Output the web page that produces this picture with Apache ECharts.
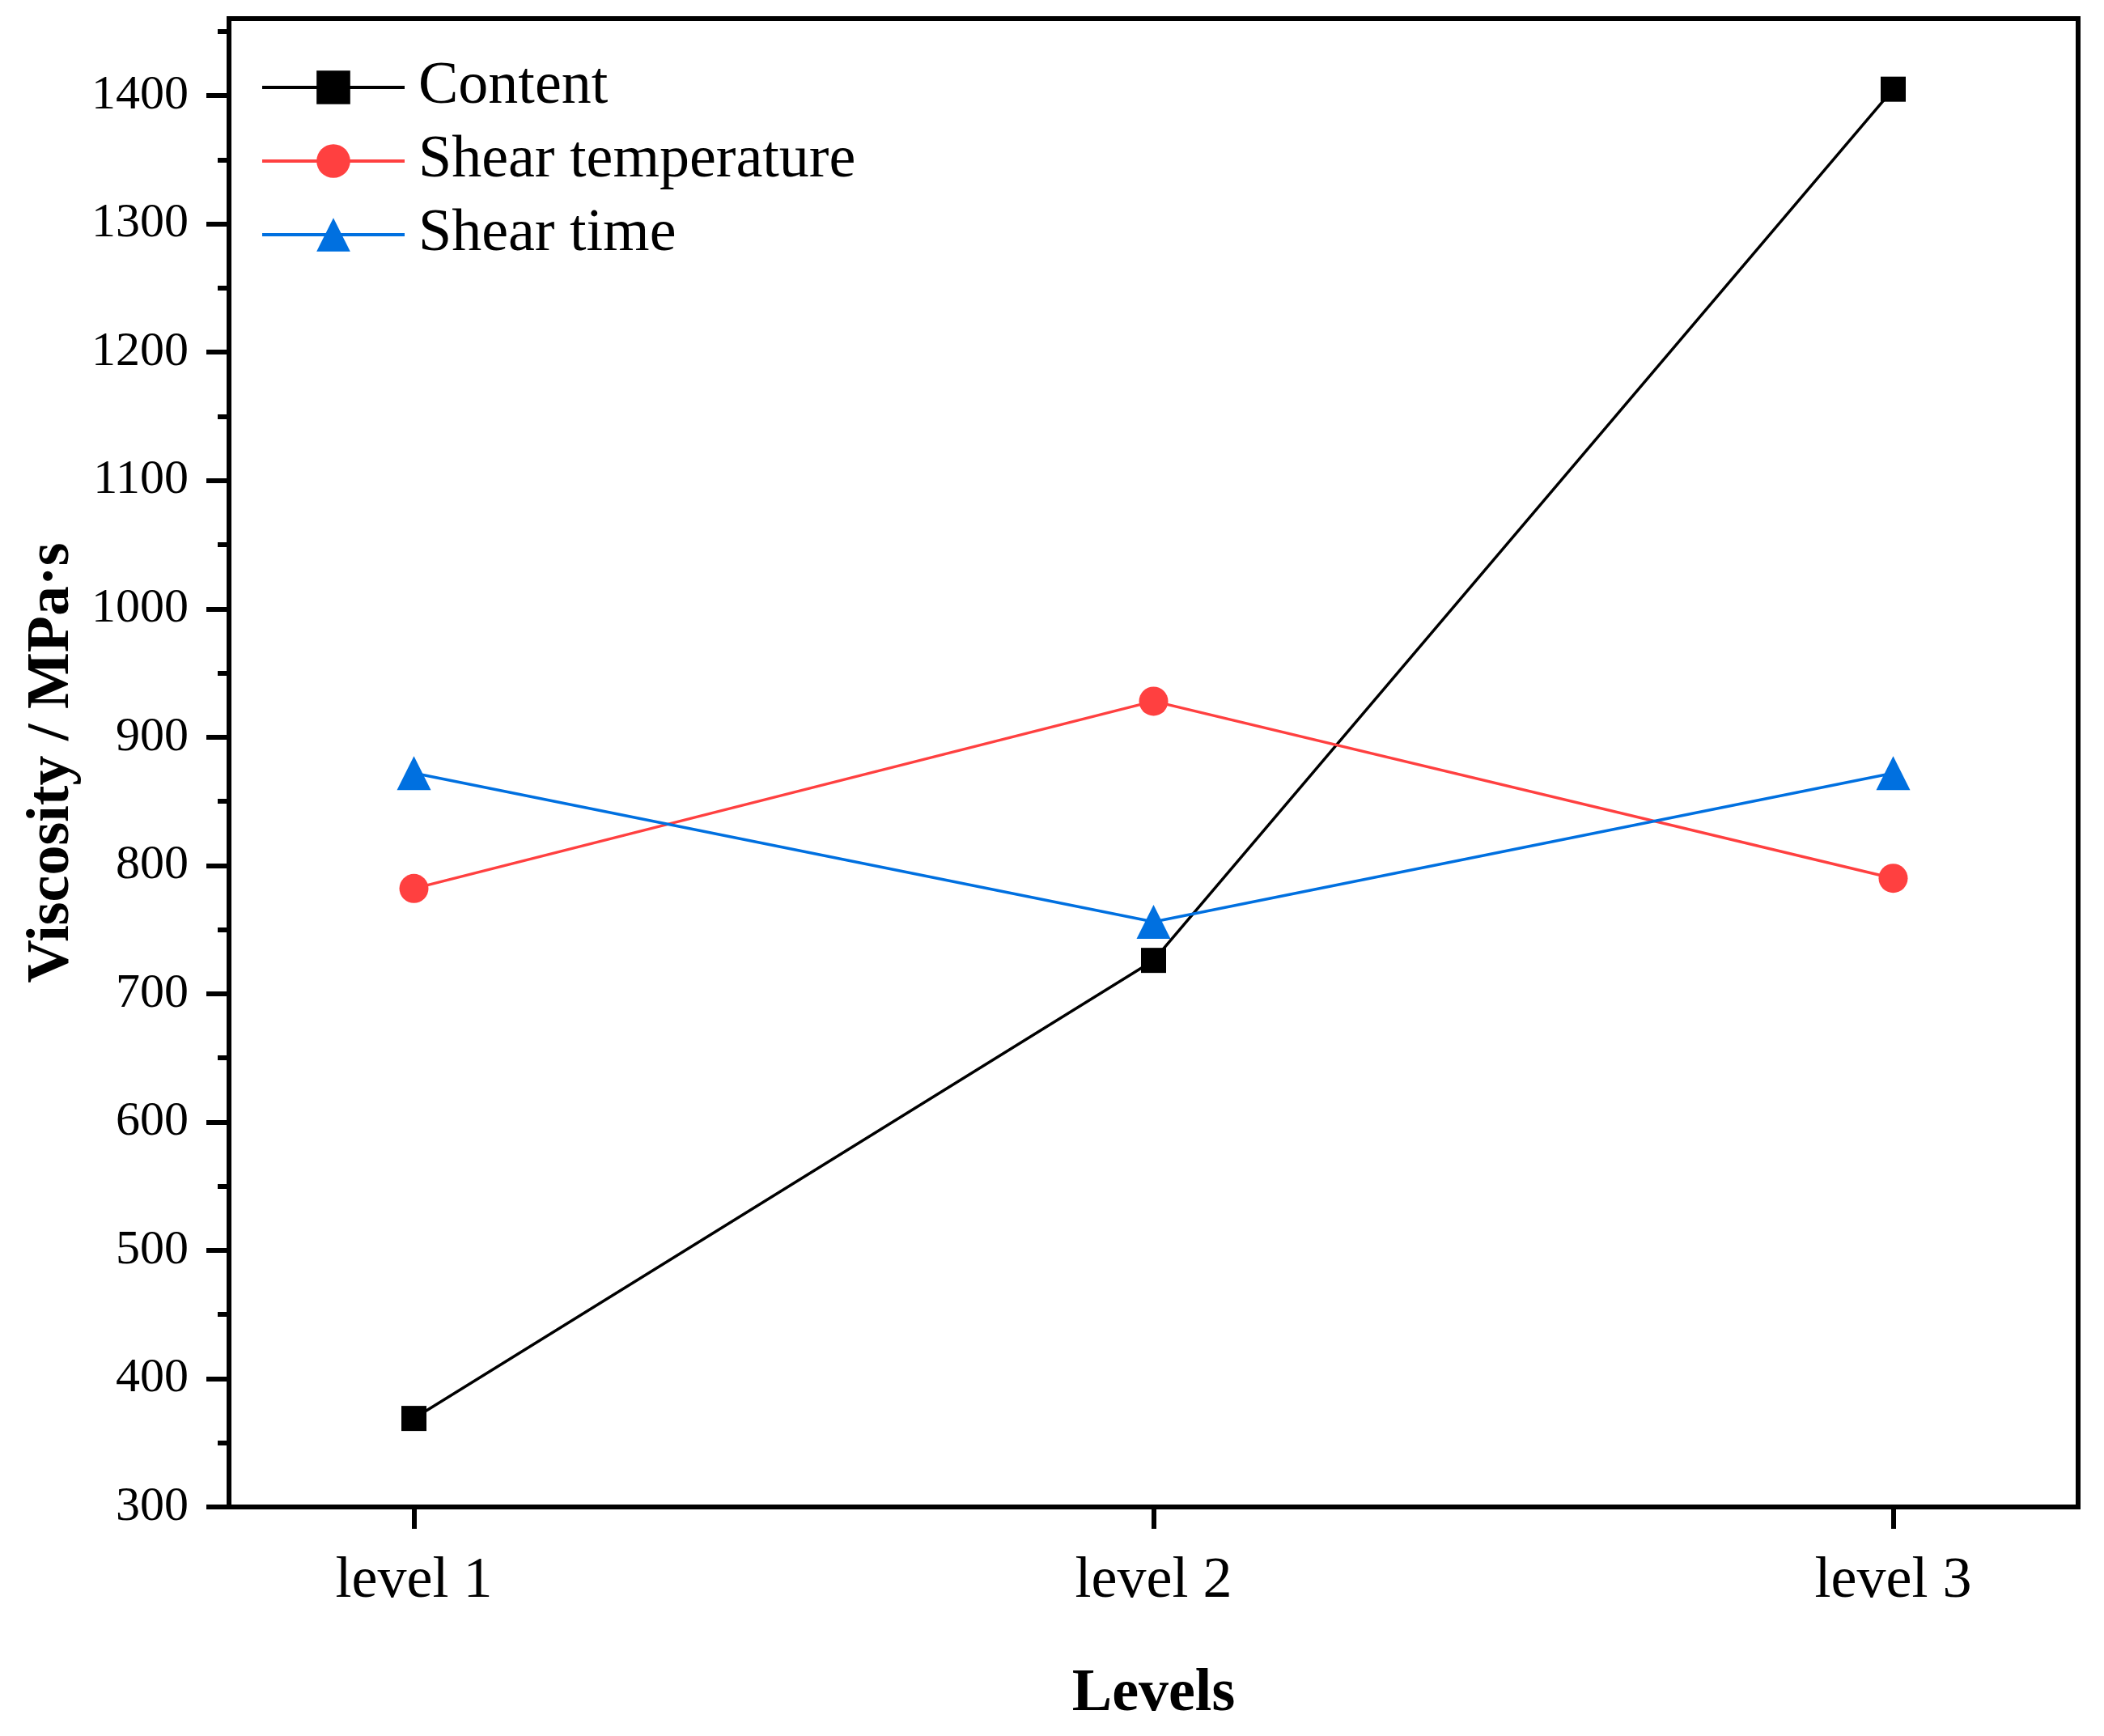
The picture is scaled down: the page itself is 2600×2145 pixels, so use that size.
<!DOCTYPE html>
<html>
<head>
<meta charset="utf-8">
<script src="https://cdn.jsdelivr.net/npm/echarts@6/dist/echarts.min.js"></script>
<style>
html,body{margin:0;padding:0;background:#fff;}
#chart{width:2600px;height:2145px;}
</style>
</head>
<body>
<div id="chart"></div>
<script>
const categories = ['level 1', 'level 2', 'level 3'];
const seriesNames = ['Content', 'Shear temperature', 'Shear time'];
const content = [369, 726, 1405];
const shearTemperature = [782, 928, 790];
const shearTime = [872, 756, 872];
const yMajorTicks = [300, 400, 500, 600, 700, 800, 900, 1000, 1100, 1200, 1300, 1400];
const yMinorTicks = [350, 450, 550, 650, 750, 850, 950, 1050, 1150, 1250, 1350, 1450];
const xPositions = [1, 2, 3];

const FONT = '"Liberation Serif", "Times New Roman", serif';
const toPairs = arr => arr.map((v, i) => [xPositions[i], v]);

const chart = echarts.init(document.getElementById('chart'), null, {renderer: 'canvas'});

function lineSeries(name, data, color, symbol, size) {
  return {
    name: name,
    type: 'line',
    data: toPairs(data),
    symbol: symbol,
    symbolSize: size,
    showAllSymbol: true,
    lineStyle: {color: color, width: 3.5},
    itemStyle: {color: color},
    emphasis: {disabled: true},
    animation: false,
    z: 3
  };
}

const option = {
  animation: false,
  backgroundColor: '#fff',
  grid: {
    left: 283, top: 23, right: 32, bottom: 283,
    show: true, borderColor: '#000', borderWidth: 6, backgroundColor: 'transparent'
  },
  legend: {
    orient: 'vertical',
    left: 322, top: 71,
    padding: 0,
    itemWidth: 176,
    itemHeight: 52,
    itemGap: 17,
    data: seriesNames,
    lineStyle: {width: 4},
    textStyle: {fontFamily: FONT, fontSize: 74, color: '#000', padding: [0, 0, 0, 12]},
    selectedMode: false
  },
  xAxis: {
    type: 'value',
    min: 0.75, max: 3.25,
    name: 'Levels',
    nameLocation: 'middle',
    nameGap: 195,
    nameTextStyle: {fontFamily: FONT, fontSize: 74, fontWeight: 'bold', color: '#000'},
    axisLine: {show: true, onZero: false, lineStyle: {color: '#000', width: 6}},
    axisTick: {show: true, inside: false, length: 27, lineStyle: {color: '#000', width: 6}, customValues: xPositions},
    axisLabel: {
      show: true, margin: 56, fontFamily: FONT, fontSize: 72, color: '#000',
      customValues: xPositions,
      formatter: v => categories[Math.round(v) - 1] || ''
    },
    splitLine: {show: false}
  },
  yAxis: [{
    type: 'value',
    min: 300, max: 1460,
    name: 'Viscosity / MPa·s',
    nameLocation: 'middle',
    nameGap: 165,
    nameTextStyle: {fontFamily: FONT, fontSize: 74, fontWeight: 'bold', color: '#000'},
    axisLine: {show: true, onZero: false, lineStyle: {color: '#000', width: 6}},
    axisTick: {show: true, inside: false, length: 28, lineStyle: {color: '#000', width: 6}, customValues: yMajorTicks},
    axisLabel: {show: true, margin: 50, fontFamily: FONT, fontSize: 60, color: '#000', customValues: yMajorTicks, formatter: v => String(v)},
    splitLine: {show: false}
  }, {
    type: 'value',
    position: 'left',
    min: 300, max: 1460,
    axisLine: {show: false},
    axisTick: {show: true, inside: false, length: 14, lineStyle: {color: '#000', width: 6}, customValues: yMinorTicks},
    axisLabel: {show: false},
    splitLine: {show: false}
  }],
  series: [
    lineSeries(seriesNames[0], content, '#000000', 'rect', 31),
    lineSeries(seriesNames[1], shearTemperature, '#FF4040', 'circle', 36),
    lineSeries(seriesNames[2], shearTime, '#0070E0', 'triangle', 42)
  ]
};
chart.setOption(option);
</script>
</body>
</html>
